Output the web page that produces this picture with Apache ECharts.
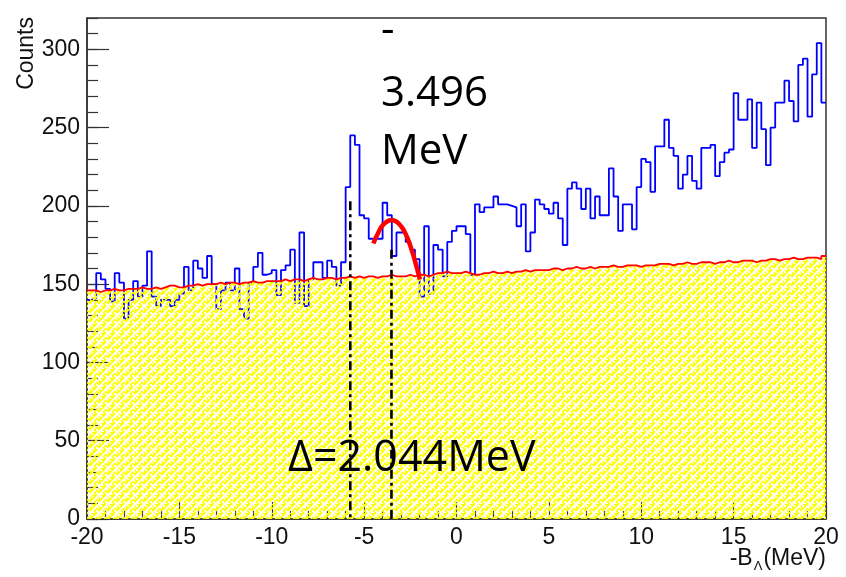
<!DOCTYPE html>
<html>
<head>
<meta charset="utf-8">
<script src="https://cdn.jsdelivr.net/npm/echarts@6/dist/echarts.min.js"></script>
<style>
  html, body { margin: 0; padding: 0; background: #fff; }
  #main { width: 846px; height: 577px; }
</style>
</head>
<body>
<div id="main"></div>
<script>
// histogram range, 160 bins of 0.25 MeV
var xMin = -20
var xMax = 20
var binWidth = 0.25

// measured spectrum (blue)
var dataCounts = [
  140, 141, 157, 153, 147, 139, 157, 151, 128, 140,
  152, 142, 149, 171, 142, 136, 140, 140, 136, 140,
  144, 161, 146, 165, 160, 154, 168, 150, 134, 146,
  151, 146, 160, 134, 128, 151, 161, 170, 156, 157,
  159, 143, 159, 162, 172, 138, 183, 136, 153, 164,
  164, 154, 165, 161, 149, 164, 212, 245, 239, 194,
  192, 179, 179, 179, 202, 194, 168, 183, 183, 177,
  172, 166, 142, 187, 144, 175, 172, 155, 177, 184,
  187, 187, 182, 156, 201, 196, 199, 199, 206, 201,
  201, 200, 199, 187, 201, 171, 183, 204, 201, 198,
  195, 202, 192, 175, 211, 215, 211, 198, 211, 192,
  206, 194, 194, 224, 206, 184, 201, 201, 185, 212,
  230, 228, 209, 238, 238, 255, 237, 232, 211, 220,
  232, 216, 211, 237, 237, 239, 219, 228, 234, 236,
  272, 255, 255, 268, 237, 266, 249, 226, 250, 266,
  266, 280, 267, 254, 290, 294, 257, 284, 304, 266
]

// background estimate (red, hatched yellow)
var bkgCounts = [
  146, 146, 145, 146, 146, 147, 146, 146, 147, 147,
  147, 148, 147, 147, 148, 147, 148, 149, 149, 148,
  148, 149, 149, 150, 149, 150, 150, 150, 151, 150,
  151, 151, 150, 151, 151, 152, 151, 151, 152, 152,
  152, 152, 153, 152, 153, 153, 152, 153, 154, 153,
  153, 154, 154, 153, 154, 154, 155, 154, 155, 154,
  155, 155, 154, 155, 155, 156, 155, 155, 155, 156,
  155, 156, 156, 155, 156, 157, 157, 158, 157, 157,
  157, 158, 157, 156, 156, 157, 157, 158, 157, 157,
  158, 157, 158, 158, 159, 158, 159, 159, 159, 159,
  160, 160, 159, 160, 160, 161, 160, 160, 161, 160,
  161, 161, 161, 162, 161, 161, 162, 162, 162, 161,
  162, 162, 162, 163, 163, 163, 162, 163, 163, 164,
  163, 163, 164, 164, 164, 163, 164, 164, 165, 164,
  164, 165, 165, 165, 164, 165, 165, 166, 166, 165,
  166, 166, 167, 166, 166, 167, 167, 167, 166, 168
]

// fitted peak
var fitX = [-4.50, -4.23, -3.96, -3.51, -3.15, -2.79, -2.43, -2.16, -1.98]
var fitY = [176, 183, 188, 191, 189, 183, 172, 161, 153]

// dash-dot markers
var markX = [-5.75, -3.52]
var markTop = [203, 172]

function stepData(vals) {
  var out = []
  for (var i = 0; i < vals.length; i++) {
    out.push([xMin + i * binWidth, vals[i]])
  }
  out.push([xMax, vals[vals.length - 1]])
  return out
}

// yellow basket-weave hatch, gaps left transparent
function makeHatch() {
  var s = 9
  var c = document.createElement('canvas')
  c.width = s
  c.height = s
  var ctx = c.getContext('2d')
  ctx.fillStyle = '#ffff00'
  ctx.fillRect(0, 0, s, s)
  ctx.globalCompositeOperation = 'destination-out'
  ctx.strokeStyle = '#000'
  ctx.lineWidth = 1.9
  ctx.lineCap = 'butt'
  ctx.beginPath()
  // long "/" strands
  ctx.moveTo(-1, s + 1); ctx.lineTo(s + 1, -1)
  ctx.moveTo(-1, 1); ctx.lineTo(1, -1)
  ctx.moveTo(s - 1, s + 1); ctx.lineTo(s + 1, s - 1)
  // short "\" strands, broken where they pass under
  ctx.moveTo(0, 0); ctx.lineTo(2.8, 2.8)
  ctx.moveTo(6.2, 6.2); ctx.lineTo(s, s)
  ctx.moveTo(2.5, s - 1.5); ctx.lineTo(4.5, s + 0.5)
  ctx.moveTo(s - 1.5, 2.5); ctx.lineTo(s + 0.5, 4.5)
  ctx.stroke()
  return c
}

var chart = echarts.init(document.getElementById('main'))

var fitData = fitX.map(function (x, i) { return [x, fitY[i]] })

var labelFont = { fontSize: 23, color: '#111', fontFamily: 'Liberation Sans' }

var option = {
  animation: false,
  backgroundColor: '#fff',
  grid: {
    left: 87, right: 20, top: 18, bottom: 58,
    show: true, borderColor: '#333', borderWidth: 1.5
  },
  xAxis: {
    type: 'value',
    min: xMin, max: xMax, interval: 5,
    axisLine: { onZero: false, lineStyle: { color: '#333', width: 1.5 } },
    axisTick: { inside: true, length: 17, lineStyle: { color: '#333', width: 1.2 } },
    minorTick: { show: true, splitNumber: 5, length: 8, lineStyle: { color: '#333', width: 1.2 } },
    axisLabel: Object.assign({ margin: 7 }, labelFont),
    splitLine: { show: false }
  },
  yAxis: [
    {
      type: 'value',
      min: 0, max: 320, interval: 50,
      position: 'left',
      axisLine: { show: true, onZero: false, lineStyle: { color: '#333', width: 1.5 } },
      axisTick: { show: true, inside: true, length: 22, lineStyle: { color: '#333', width: 1.2 } },
      axisLabel: Object.assign({ margin: 7, showMaxLabel: false }, labelFont),
      splitLine: { show: false }
    },
    {
      type: 'value',
      min: 0, max: 320, interval: 10,
      position: 'left',
      axisLine: { show: false, onZero: false },
      axisTick: { show: true, inside: true, length: 11, lineStyle: { color: '#333', width: 1.2 } },
      axisLabel: { show: false },
      splitLine: { show: false }
    }
  ],
  series: [
    {
      name: 'data',
      type: 'line',
      step: 'end',
      showSymbol: false,
      data: stepData(dataCounts),
      lineStyle: { color: '#0000ff', width: 1.8 },
      z: 2
    },
    {
      name: 'background',
      type: 'line',
      step: 'end',
      showSymbol: false,
      data: stepData(bkgCounts),
      lineStyle: { color: '#ff0000', width: 1.8 },
      areaStyle: { color: { image: makeHatch(), repeat: 'repeat' }, opacity: 1 },
      z: 3
    },
    {
      name: 'mark1',
      type: 'line',
      showSymbol: false,
      data: [[markX[0], markTop[0]], [markX[0], 0]],
      lineStyle: { color: '#000', width: 2.6, type: [9, 4, 3, 4] },
      z: 4
    },
    {
      name: 'mark2',
      type: 'line',
      showSymbol: false,
      data: [[markX[1], markTop[1]], [markX[1], 0]],
      lineStyle: { color: '#000', width: 2.6, type: [9, 4, 3, 4] },
      z: 4
    },
    {
      name: 'fit',
      type: 'line',
      smooth: true,
      showSymbol: false,
      data: fitData,
      lineStyle: { color: '#ff0000', width: 4.5 },
      z: 5
    }
  ],
  graphic: [
    {
      type: 'text', x: 38, y: 17, rotation: Math.PI / 2,
      style: { text: 'Counts', font: '23px "Liberation Sans"', fill: '#111', align: 'right', verticalAlign: 'bottom' }
    },
    {
      type: 'text', x: 826, y: 570,
      style: {
        text: '{a|-B}{b|Λ}{a|(MeV)}',
        align: 'right', verticalAlign: 'bottom', fill: '#111',
        rich: {
          a: { fontSize: 23, fontFamily: 'Liberation Sans', lineHeight: 23, verticalAlign: 'top' },
          b: { fontSize: 13, fontFamily: 'Liberation Sans', lineHeight: 13, verticalAlign: 'top', padding: [13, 1, 0, 1] }
        }
      },
      z: 10
    },
    {
      type: 'text', x: 381, y: 52,
      style: { text: '-', font: '42px "Open Sans"', fill: '#000', verticalAlign: 'bottom' },
      z: 10
    },
    {
      type: 'text', x: 381, y: 115,
      style: { text: '3.496', font: '42px "Open Sans"', fill: '#000', verticalAlign: 'bottom' },
      z: 10
    },
    {
      type: 'text', x: 381, y: 173,
      style: { text: 'MeV', font: '42px "Open Sans"', fill: '#000', verticalAlign: 'bottom' },
      z: 10
    },
    {
      type: 'text', x: 288, y: 480,
      style: { text: 'Δ=2.044MeV', font: '43px "Open Sans"', fill: '#000', verticalAlign: 'bottom' },
      z: 10
    }
  ]
}

chart.setOption(option)
</script>
</body>
</html>
